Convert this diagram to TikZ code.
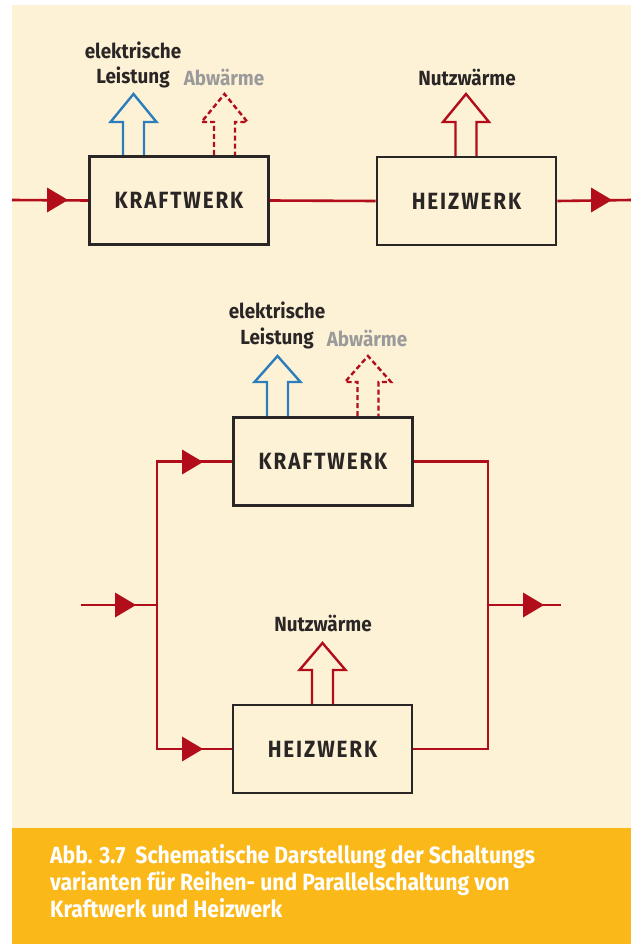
\documentclass[tikz,border=0pt]{standalone}
\usepackage{fontspec}
\setmainfont{Fira Sans}[FakeStretch=0.92]
\newfontfamily\capfont{Fira Sans}[FakeStretch=0.9]
\newfontfamily\boxfont{Fira Sans}[FakeStretch=0.88,LetterSpace=8]
\definecolor{bgbeige}{HTML}{FDF2D6}
\definecolor{bandorange}{HTML}{FBB819}
\definecolor{flowred}{HTML}{B10D1B}
\definecolor{elblue}{HTML}{2C7DBB}
\definecolor{labelgray}{HTML}{9A9A9A}
\definecolor{boxline}{HTML}{2A2626}
\newcommand\flowtri[2]{\fill[flowred] (#1-10.5,#2-12.5) -- (#1+10.5,#2) -- (#1-10.5,#2+12.5) -- cycle;}
% hollow arrow: #1 centre x, #2 base y, #3 tip y, #4 head base y, #5 style
\newcommand\hollowarrow[5]{\draw[#5] (#1-10.5,#2) -- (#1-10.5,#4) -- (#1-23,#4) -- (#1,#3) -- (#1+23,#4) -- (#1+10.5,#4) -- (#1+10.5,#2);}
\begin{document}
\begin{tikzpicture}[x=1pt,y=-1pt,
  plant/.style={draw=boxline, line width=2.8pt, minimum width=179pt, minimum height=88pt, inner sep=0pt,
    font=\boxfont\bfseries\fontsize{23.5}{26}\selectfont, text=boxline},
  flow/.style={draw=flowred, line width=2.6pt},
  lbl/.style={font=\bfseries\fontsize{20.5}{22}\selectfont, text=boxline, inner sep=0pt},
  greylbl/.style={lbl, text=labelgray},
  elarrow/.style={draw=elblue, line width=2.4pt, line join=miter},
  wastearrow/.style={draw=flowred, line width=2.4pt, dash pattern=on 5pt off 3pt},
  heatarrow/.style={draw=flowred, line width=2.4pt, line join=miter}]
\useasboundingbox (0,0) rectangle (631,944);
\fill[white] (0,0) rectangle (631,944);
\fill[bgbeige] (12,5) rectangle (631,828);
\fill[bandorange] (12,828) rectangle (631,944);

% ---------- series connection ----------
\node[plant] (kw1) at (179,200.5) {KRAFTWERK};
\node[plant] (hw1) at (466.5,201) {HEIZWERK};
\coordinate (in1) at (12,200);
\coordinate (out1) at (631,200);
\draw[flow] (in1) -- (kw1.west);
\draw[flow] (kw1.east) -- (hw1.west);
\draw[flow] (hw1.east) -- (out1);
\flowtri{57.5}{200}
\flowtri{601.5}{200}

\hollowarrow{133.5}{155}{94}{122}{elarrow}
\hollowarrow{224.5}{155}{94}{122}{wastearrow}
\hollowarrow{466}{156}{94}{122}{heatarrow}

\node[lbl] (el1a) at (133,50) {elektrische};
\node[lbl] (el1b) at (133,77) {Leistung};
\node[greylbl] (ab1) at (224,77) {Abwärme};
\node[lbl] (nw1) at (467,77) {Nutzwärme};

% ---------- parallel connection ----------
\node[plant] (kw2) at (323,461.5) {KRAFTWERK};
\node[plant] (hw2) at (322.5,749) {HEIZWERK};
\coordinate (split) at (157,605);
\coordinate (merge) at (488,605);
\coordinate (in2) at (81,605);
\coordinate (out2) at (561,605);
\draw[flow] (in2) -- (split);
\draw[flow] (split) |- (kw2.west);
\draw[flow] (split) |- (hw2.west);
\draw[flow] (kw2.east) -| (merge);
\draw[flow] (hw2.east) -| (merge);
\draw[flow] (merge) -- (out2);
\flowtri{192.5}{462}
\flowtri{192.5}{749}
\flowtri{125.5}{605}
\flowtri{533.5}{605}

\hollowarrow{277.5}{416}{356}{382}{elarrow}
\hollowarrow{368}{416}{356}{382}{wastearrow}
\hollowarrow{322.5}{704}{643}{670}{heatarrow}

\node[lbl] (el2a) at (277,310) {elektrische};
\node[lbl] (el2b) at (277,338) {Leistung};
\node[greylbl] (ab2) at (367,338) {Abwärme};
\node[lbl] (nw2) at (323,623) {Nutzwärme};

% ---------- caption ----------
\node[anchor=north west, align=left, text=white, inner sep=0pt,
  font=\capfont\bfseries\fontsize{23.5}{27}\selectfont] (cap) at (50,844)
  {Abb. 3.7\ \ Schematische Darstellung der Schaltungs\\
   varianten für Reihen- und Parallelschaltung von\\
   Kraftwerk und Heizwerk};
\end{tikzpicture}
\end{document}
